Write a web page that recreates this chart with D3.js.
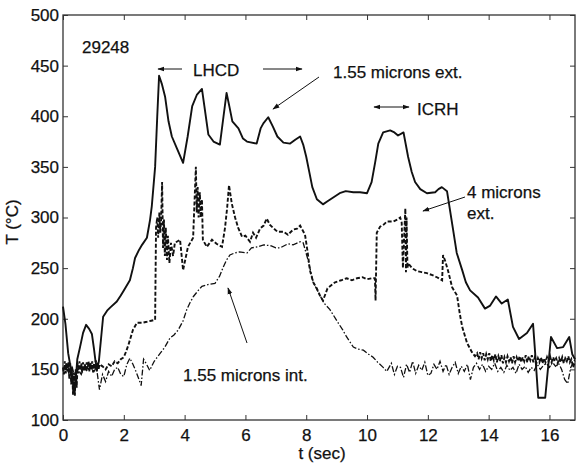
<!DOCTYPE html>
<html>
<head>
<meta charset="utf-8">
<script src="https://cdn.jsdelivr.net/npm/d3@7"></script>
<style>
  body { margin: 0; background: #fff; }
  svg text { font-family: "Liberation Sans", Arial, sans-serif; fill: #111; stroke: #111; stroke-width: 0.25; }
</style>
</head>
<body>
<svg id="chart" width="576" height="464"></svg>
<script>
// 1.55 microns ext. (solid)
const ext155 = [[0,212],[0.08,195],[0.17,166],[0.25,152],[0.3,145],[0.36,127],[0.42,140],[0.47,160],[0.56,172],[0.66,186],[0.76,194],[0.86,190],[0.95,185],[1.02,170],[1.07,158],[1.12,150],[1.18,158],[1.25,180],[1.32,202],[1.45,208],[1.55,211],[1.77,217],[1.9,223],[2.0,228],[2.2,238],[2.3,250],[2.37,260],[2.5,268],[2.6,273],[2.76,280],[2.86,297],[2.92,311],[3.03,350],[3.1,400],[3.16,440],[3.25,432],[3.36,419],[3.47,395],[3.58,380],[3.75,368],[3.95,354],[4.1,380],[4.25,410],[4.4,421],[4.57,427],[4.65,410],[4.78,382],[4.95,375],[5.16,372],[5.28,400],[5.38,423],[5.47,410],[5.57,395],[5.77,388],[5.92,378],[6.05,375],[6.37,373],[6.5,388],[6.59,393],[6.75,399],[6.9,390],[7.05,380],[7.25,374],[7.47,373],[7.65,377],[7.8,380],[7.9,372],[8.0,360],[8.1,345],[8.2,330],[8.35,318],[8.55,313],[8.7,316],[8.9,320],[9.1,324],[9.3,326],[9.55,325],[9.77,325],[10.0,324],[10.15,335],[10.27,355],[10.37,373],[10.53,384],[10.76,386],[10.9,384],[11.02,381],[11.2,384],[11.35,360],[11.47,345],[11.58,335],[11.75,328],[11.97,324],[12.24,325],[12.35,328],[12.46,330],[12.63,326],[12.83,288],[12.95,265],[13.13,248],[13.25,236],[13.39,228],[13.65,221],[13.88,210],[14.05,213],[14.24,222],[14.43,215],[14.63,219],[14.8,192],[15.0,180],[15.26,186],[15.46,195],[15.53,166],[15.63,122],[15.86,122],[16.05,182],[16.25,171],[16.45,172],[16.65,182],[16.75,165],[16.84,160]];

// 4 microns ext. (dashed)
const ext4 = [[0,152],[0.03,145],[0.06,158],[0.09,146],[0.12,156],[0.15,148],[0.18,157],[0.21,140],[0.24,156],[0.27,135],[0.3,152],[0.33,125],[0.36,147],[0.39,124],[0.42,150],[0.45,132],[0.48,156],[0.51,146],[0.54,158],[0.57,149],[0.6,156],[0.63,147],[0.66,157],[0.69,148],[0.72,155],[0.75,149],[0.78,157],[0.81,150],[0.84,158],[0.87,148],[0.9,156],[0.93,150],[0.96,158],[0.99,147],[1.02,156],[1.05,150],[1.08,159],[1.11,148],[1.14,157],[1.17,150],[1.2,155],[1.3,153],[1.4,150],[1.5,155],[1.6,153],[1.7,158],[1.8,156],[1.9,160],[2.0,162],[2.08,168],[2.15,174],[2.3,189],[2.43,196],[2.6,196],[2.76,197],[2.9,198],[3.03,199],[3.06,290],[3.1,300],[3.13,280],[3.17,305],[3.2,285],[3.23,300],[3.26,335],[3.29,270],[3.32,298],[3.35,262],[3.38,290],[3.42,258],[3.45,282],[3.5,255],[3.55,275],[3.62,262],[3.68,275],[3.85,278],[3.95,248],[4.11,271],[4.28,280],[4.37,350],[4.4,305],[4.43,330],[4.46,300],[4.5,325],[4.53,300],[4.57,318],[4.6,278],[4.73,271],[4.9,278],[5.05,274],[5.23,271],[5.33,290],[5.4,310],[5.46,332],[5.55,314],[5.66,300],[5.76,290],[5.89,281],[6.0,282],[6.15,276],[6.25,285],[6.35,280],[6.48,289],[6.6,292],[6.7,299],[6.8,293],[6.9,290],[7.05,286],[7.25,286],[7.4,283],[7.57,288],[7.7,289],[7.8,292],[7.96,283],[8.05,265],[8.12,248],[8.23,236],[8.35,230],[8.45,223],[8.55,218],[8.7,230],[8.95,236],[9.15,238],[9.33,240],[9.5,238],[9.67,240],[9.85,241],[10.0,239],[10.15,240],[10.26,240],[10.28,218],[10.32,285],[10.43,291],[10.55,293],[10.65,296],[10.86,296],[11.0,298],[11.09,300],[11.14,295],[11.18,250],[11.22,280],[11.26,309],[11.28,246],[11.3,300],[11.33,250],[11.35,255],[11.48,250],[11.64,247],[11.8,246],[11.97,245],[12.15,243],[12.3,241],[12.47,238],[12.5,263],[12.56,258],[12.66,248],[12.8,231],[12.96,223],[13.05,205],[13.13,192],[13.29,176],[13.45,167],[13.55,163],[13.62,166],[13.67,160],[13.72,167],[13.77,161],[13.82,166],[13.87,159],[13.92,165],[13.97,160],[14.02,166],[14.07,158],[14.12,164],[14.17,159],[14.22,165],[14.27,157],[14.32,163],[14.37,158],[14.42,164],[14.47,156],[14.52,162],[14.57,157],[14.62,163],[14.67,158],[14.72,162],[14.77,156],[14.82,163],[14.87,157],[14.92,162],[14.97,158],[15.02,163],[15.07,157],[15.12,162],[15.17,158],[15.22,164],[15.27,157],[15.32,163],[15.37,159],[15.42,164],[15.47,157],[15.52,162],[15.57,156],[15.62,161],[15.67,157],[15.72,162],[15.77,156],[15.82,161],[15.87,157],[15.92,162],[15.97,158],[16.02,163],[16.07,157],[16.12,162],[16.17,158],[16.22,161],[16.27,156],[16.32,161],[16.37,157],[16.42,162],[16.47,156],[16.52,161],[16.57,158],[16.62,163],[16.67,157],[16.72,160],[16.78,152],[16.84,158]];

// 1.55 microns int. (dash-dot)
const int155 = [[0,150],[0.1,155],[0.2,145],[0.3,152],[0.4,142],[0.5,150],[0.6,145],[0.7,153],[0.8,148],[0.9,155],[1.0,147],[1.1,152],[1.2,130],[1.3,145],[1.4,138],[1.5,148],[1.6,143],[1.7,150],[1.8,152],[1.9,145],[2.0,143],[2.1,155],[2.2,161],[2.3,155],[2.4,148],[2.5,140],[2.57,134],[2.65,160],[2.75,155],[2.85,149],[3.0,158],[3.1,162],[3.2,166],[3.35,172],[3.52,181],[3.65,184],[3.79,189],[3.95,198],[4.07,209],[4.18,216],[4.29,222],[4.45,228],[4.57,232],[4.8,234],[5.0,235],[5.15,242],[5.27,251],[5.38,258],[5.49,263],[5.65,265],[5.8,266],[6.05,265],[6.2,270],[6.4,271],[6.6,273],[6.85,272],[7.0,270],[7.14,270],[7.4,274],[7.57,273],[7.8,276],[7.9,275],[8.06,258],[8.23,236],[8.45,223],[8.6,215],[8.78,209],[9.05,196],[9.2,189],[9.33,182],[9.55,172],[9.7,170],[9.88,169],[10.05,165],[10.2,162],[10.35,157],[10.53,152],[10.65,148],[10.8,156],[10.9,145],[11.0,153],[11.1,152],[11.2,142],[11.3,155],[11.4,147],[11.5,158],[11.6,146],[11.7,154],[11.8,149],[11.9,157],[12.0,144],[12.1,146],[12.2,155],[12.3,150],[12.4,158],[12.5,148],[12.6,155],[12.7,145],[12.8,152],[12.9,157],[13.0,146],[13.1,153],[13.2,148],[13.3,155],[13.4,140],[13.5,152],[13.6,156],[13.7,150],[13.8,155],[13.9,148],[14.0,153],[14.1,150],[14.2,156],[14.3,148],[14.4,152],[14.5,147],[14.6,154],[14.7,149],[14.8,152],[14.9,146],[15.0,155],[15.1,150],[15.2,153],[15.3,147],[15.4,152],[15.5,149],[15.6,155],[15.7,150],[15.8,154],[15.9,156],[16.0,152],[16.1,157],[16.2,153],[16.3,156],[16.4,150],[16.5,140],[16.6,136],[16.7,152],[16.84,160]];

const xTicks = [0, 2, 4, 6, 8, 10, 12, 14, 16];
const yTicks = [100, 150, 200, 250, 300, 350, 400, 450, 500];

const margin = { left: 63, right: 1, top: 15, bottom: 44 };
const width = 576, height = 464;

const svg = d3.select("#chart");

svg.append("defs").append("marker")
  .attr("id", "head")
  .attr("viewBox", "0 0 10 10")
  .attr("refX", 9).attr("refY", 5)
  .attr("markerWidth", 7).attr("markerHeight", 7)
  .attr("markerUnits", "userSpaceOnUse")
  .attr("orient", "auto-start-reverse")
  .append("path").attr("d", "M0,1.5L10,5L0,8.5Z").attr("fill", "#111");

const x = d3.scaleLinear().domain([0, 16.84]).range([margin.left, width - margin.right]);
const y = d3.scaleLinear().domain([100, 500]).range([height - margin.bottom, margin.top]);

// box
svg.append("rect")
  .attr("x", x(0)).attr("y", y(500))
  .attr("width", x(16.84) - x(0)).attr("height", y(100) - y(500))
  .attr("fill", "none").attr("stroke", "#333").attr("stroke-width", 1.3);

// axes with inward ticks
const fontSize = 17;
const axBottom = svg.append("g").attr("transform", `translate(0,${y(100)})`)
  .call(d3.axisBottom(x).tickValues(xTicks).tickSizeInner(-5).tickSizeOuter(0).tickPadding(9));
const axTop = svg.append("g").attr("transform", `translate(0,${y(500)})`)
  .call(d3.axisTop(x).tickValues(xTicks).tickSizeInner(-5).tickSizeOuter(0).tickFormat(""));
const axLeft = svg.append("g").attr("transform", `translate(${x(0)},0)`)
  .call(d3.axisLeft(y).tickValues(yTicks).tickSizeInner(-5).tickSizeOuter(0).tickPadding(4));
const axRight = svg.append("g").attr("transform", `translate(${x(16.84)},0)`)
  .call(d3.axisRight(y).tickValues(yTicks).tickSizeInner(-5).tickSizeOuter(0).tickFormat(""));

[axBottom, axTop, axLeft, axRight].forEach(g => {
  g.select(".domain").remove();
  g.selectAll("line").attr("stroke", "#333").attr("stroke-width", 1);
  g.selectAll("text").attr("font-size", fontSize).attr("fill", "#111");
});

// series
const line = d3.line().x(d => x(d[0])).y(d => y(d[1]));
svg.append("path").datum(int155).attr("d", line)
  .attr("fill", "none").attr("stroke", "#111").attr("stroke-width", 1.3)
  .attr("stroke-dasharray", "6,2,1.5,2");
svg.append("path").datum(ext4).attr("d", line)
  .attr("fill", "none").attr("stroke", "#111").attr("stroke-width", 1.9)
  .attr("stroke-dasharray", "4,2");
svg.append("path").datum(ext155).attr("d", line)
  .attr("fill", "none").attr("stroke", "#111").attr("stroke-width", 1.9)
  .attr("stroke-linejoin", "round");

// annotations
function label(tx, ty, s) {
  svg.append("text").attr("x", tx).attr("y", ty).attr("font-size", fontSize).text(s);
}
function arrow(x1, y1, x2, y2, both) {
  let p = svg.append("line")
    .attr("x1", x1).attr("y1", y1).attr("x2", x2).attr("y2", y2)
    .attr("stroke", "#111").attr("stroke-width", 1)
    .attr("marker-end", "url(#head)");
  if (both) p.attr("marker-start", "url(#head)");
}

label(82, 53, "29248");
label(193, 76, "LHCD");
arrow(182, 69, 158, 69);
arrow(263, 69, 302, 69);
label(333, 78, "1.55 microns ext.");
arrow(319, 77, 273, 109);
label(417, 115, "ICRH");
arrow(374, 107, 409, 107, true);
label(467, 198, "4 microns");
label(467, 219, "ext.");
arrow(465, 197, 423, 211);
label(183, 381, "1.55 microns int.");
arrow(247, 343, 228, 288);

// axis titles
svg.append("text").attr("x", 322).attr("y", 459).attr("text-anchor", "middle")
  .attr("font-size", fontSize).text("t (sec)");
svg.append("text").attr("transform", "translate(18,222) rotate(-90)")
  .attr("text-anchor", "middle").attr("font-size", fontSize).text("T (°C)");
</script>
</body>
</html>
